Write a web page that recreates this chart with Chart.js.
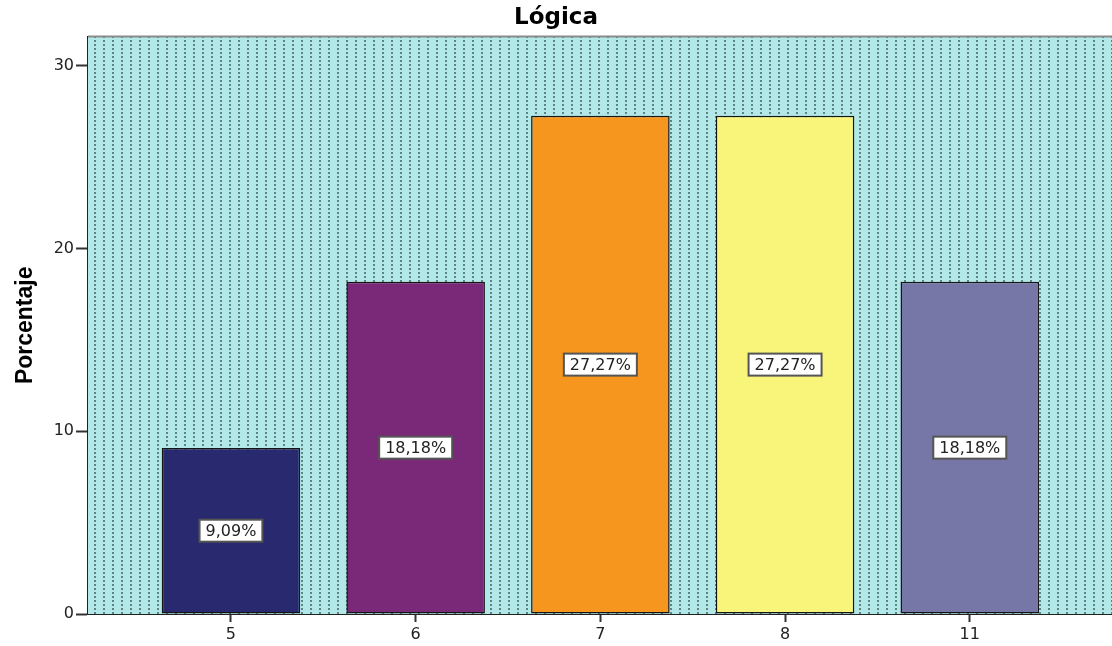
<!DOCTYPE html>
<html>
<head>
<meta charset="utf-8">
<script src="https://cdn.jsdelivr.net/npm/chart.js@4"></script>
<style>
  html, body { margin: 0; padding: 0; background: #fff; }
  #wrap { width: 1112px; height: 646px; }
</style>
</head>
<body>
<div id="wrap"><canvas id="logicaChart" width="1112" height="646"></canvas></div>
<script>
const categories = ["5", "6", "7", "8", "11"];
const percentages = [9.09, 18.18, 27.27, 27.27, 18.18];
const percentLabels = ["9,09%", "18,18%", "27,27%", "27,27%", "18,18%"];
const barColors = ["#28296e", "#7a2878", "#f7961f", "#f9f47a", "#7777a7"];
const yTicks = [0, 10, 20, 30];

const ctx = document.getElementById("logicaChart").getContext("2d");

// dotted cyan fill of the plot area
function makePattern() {
  const tile = document.createElement("canvas");
  tile.width = 9;
  tile.height = 4;
  const t = tile.getContext("2d");
  t.fillStyle = "#b3e8e8";
  t.fillRect(0, 0, 9, 4);
  t.fillStyle = "#5f8282";
  t.fillRect(4, 0, 2, 2);
  return ctx.createPattern(tile, "repeat");
}
const dotPattern = makePattern();

// plot background + top frame line
const plotBackground = {
  id: "plotBackground",
  beforeDatasetsDraw(chart) {
    const a = chart.chartArea;
    const c = chart.ctx;
    c.save();
    c.fillStyle = dotPattern;
    c.fillRect(a.left, a.top, a.right - a.left, a.bottom - a.top);
    c.strokeStyle = "#8a8a8a";
    c.lineWidth = 2;
    c.beginPath();
    c.moveTo(a.left, a.top);
    c.lineTo(a.right, a.top);
    c.stroke();
    c.restore();
  }
};

// white boxed value labels in the middle of each bar
const boxLabels = {
  id: "boxLabels",
  afterDatasetsDraw(chart) {
    const c = chart.ctx;
    const meta = chart.getDatasetMeta(0);
    c.save();
    c.font = "16px 'DejaVu Sans'";
    c.textAlign = "center";
    c.textBaseline = "middle";
    meta.data.forEach((bar, i) => {
      const txt = percentLabels[i];
      const x = bar.x;
      const y = (bar.y + bar.base) / 2;
      const w = c.measureText(txt).width + 12;
      const h = 22;
      c.fillStyle = "#ffffff";
      c.fillRect(x - w / 2, y - h / 2, w, h);
      c.strokeStyle = "#555555";
      c.lineWidth = 2;
      c.strokeRect(x - w / 2, y - h / 2, w, h);
      c.fillStyle = "#222222";
      c.fillText(txt, x, y + 1);
    });
    c.restore();
  }
};

new Chart(ctx, {
  type: "bar",
  data: {
    datasets: [{
      label: "Porcentaje",
      data: percentages.map((v, i) => ({ x: i, y: v })),
      backgroundColor: barColors,
      borderColor: "#151515",
      borderWidth: 1.5,
      borderSkipped: false,
      barPercentage: 0.75,
      categoryPercentage: 1
    }]
  },
  options: {
    responsive: false,
    animation: false,
    layout: { padding: 0 },
    plugins: {
      legend: { display: false },
      tooltip: { enabled: false },
      title: {
        display: true,
        text: "Lógica",
        color: "#000",
        font: { family: "'DejaVu Sans'", size: 23, weight: "bold" },
        padding: { top: 4, bottom: 5 }
      }
    },
    scales: {
      x: {
        type: "linear",
        offset: false,
        min: -0.774,
        max: 4.77,
        afterBuildTicks: axis => { axis.ticks = categories.map((c, i) => ({ value: i })); },
        afterFit: axis => { axis.height = 32; },
        ticks: {
          color: "#222",
          font: { family: "'DejaVu Sans'", size: 16 },
          padding: 3,
          maxRotation: 0,
          callback: v => categories[v]
        },
        grid: { offset: false, drawOnChartArea: false, tickLength: 8, color: "#333", tickWidth: 2 },
        border: { color: "#222", width: 2 }
      },
      y: {
        min: 0,
        max: 31.6,
        afterBuildTicks: axis => { axis.ticks = yTicks.map(v => ({ value: v })); },
        afterFit: axis => { axis.width = 88; },
        ticks: {
          color: "#222",
          font: { family: "'DejaVu Sans'", size: 16 },
          padding: 2
        },
        grid: { drawOnChartArea: false, tickLength: 12, color: "#333", tickWidth: 2 },
        border: { color: "#222", width: 2 },
        title: {
          display: true,
          text: "Porcentaje",
          color: "#000",
          font: { family: "'Liberation Sans', Arial, sans-serif", size: 23, weight: "bold" },
          padding: { top: 12, bottom: 0 }
        }
      }
    }
  },
  plugins: [plotBackground, boxLabels]
});
</script>
</body>
</html>
